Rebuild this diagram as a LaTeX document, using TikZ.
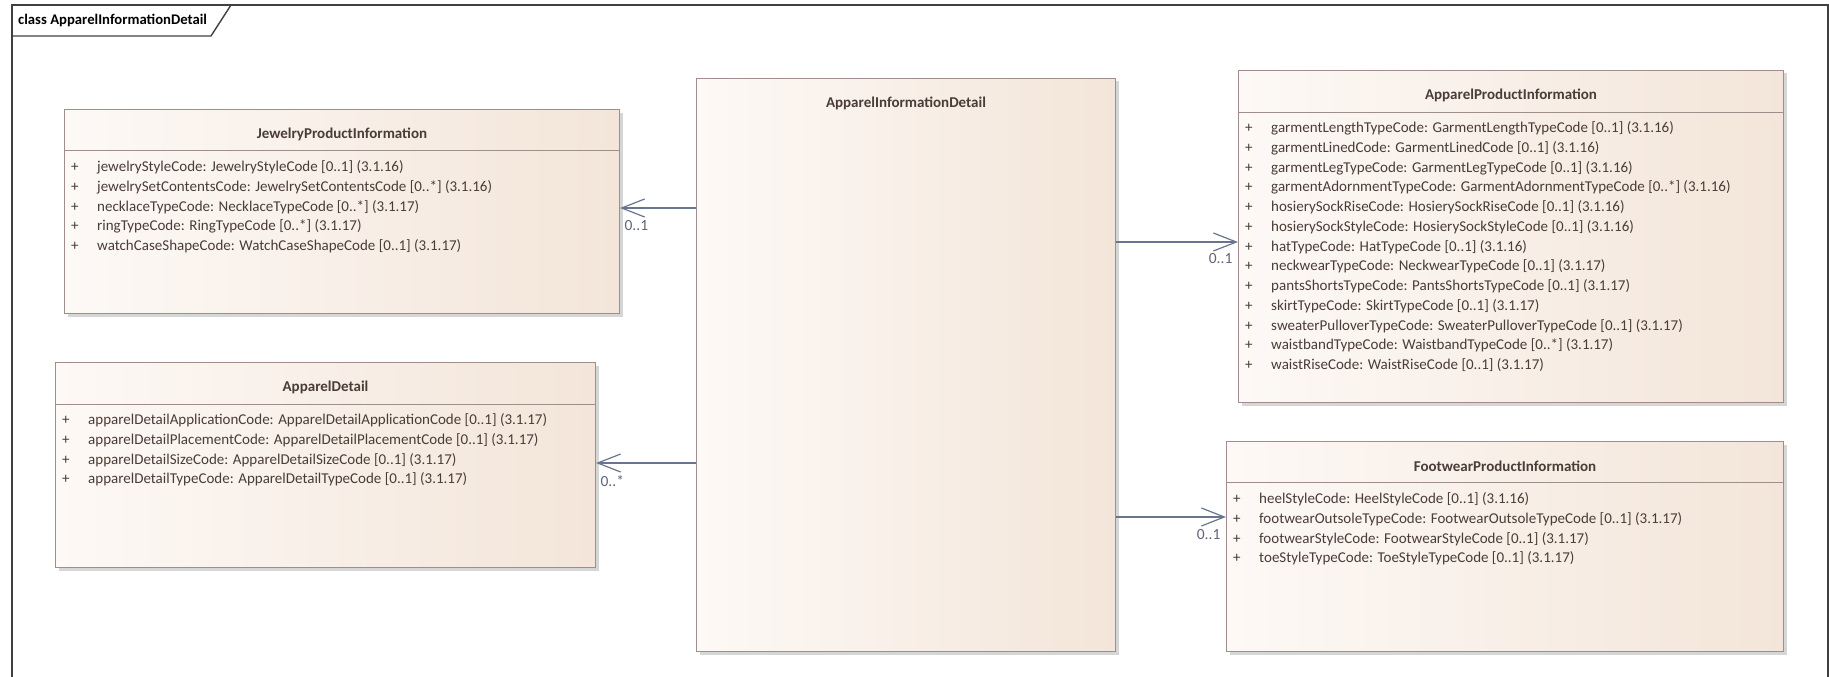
\documentclass[tikz,border=0pt]{standalone}
\usepackage{fontspec}
\setmainfont{Carlito}
\usepackage{xcolor}
\usepackage{tikz}
\usetikzlibrary{calc,positioning,shadows,arrows.meta}
\definecolor{frameline}{HTML}{404040}
\definecolor{edge}{HTML}{A08E8C}
\definecolor{fillleft}{HTML}{FDF9F6}
\definecolor{fillright}{HTML}{F3E5D9}
\definecolor{body}{HTML}{4A3C36}
\definecolor{assoc}{HTML}{69758F}
\definecolor{mult}{HTML}{5E6478}
\newcommand{\attr}[1]{\makebox[26pt][l]{+}#1}

\tikzset{
  classbox/.style={draw=edge, line width=1pt, left color=fillleft, right color=fillright,
    anchor=north west, inner sep=0pt,
    drop shadow={shadow xshift=3pt, shadow yshift=-3pt, fill=black!16, opacity=1}},
  classname/.style={font=\fontsize{15}{17}\selectfont\bfseries, text=body, inner sep=0pt},
  attrs/.style={font=\fontsize{15}{19.75}\selectfont, text=body, align=left, anchor=north west, inner sep=0pt},
  headline/.style={draw=edge, line width=1pt},
  assocline/.style={draw=assoc, line width=1.2pt, -{Straight Barb[length=23pt, width=18pt]}},
  multlabel/.style={font=\fontsize{15.5}{17}\selectfont, text=mult, inner sep=0pt}
}

\begin{document}
\begin{tikzpicture}[x=1pt, y=-1pt]
  \useasboundingbox (0,0) rectangle (1829,677);

  % diagram frame
  \draw[frameline, line width=1.4pt] (12,690) -- (12,5) -- (1828,5) -- (1828,690);
  \draw[frameline, line width=1.4pt] (12,36) -- (211,36) -- (231,5);
  \node[font=\fontsize{14.7}{16}\selectfont\bfseries, text=black, anchor=west, inner sep=0pt] (frametitle) at (18,20) {class ApparelInformationDetail};

  % classes
  \node[classbox, minimum width=419pt, minimum height=573pt] (detail) at (696,78) {};
  \node[classname] (detailname) at ([yshift=-25pt]detail.north) {ApparelInformationDetail};

  \node[classbox, minimum width=555pt, minimum height=204pt] (jewelry) at (64,109) {};
  \node[classname] (jewelryname) at ([yshift=-25pt]jewelry.north) {JewelryProductInformation};
  \draw[headline] ([yshift=-41pt]jewelry.north west) -- ([yshift=-41pt]jewelry.north east);
  \node[attrs] (jewelryattrs) at ([xshift=7pt, yshift=-51.5pt]jewelry.north west) {%
    \attr{jewelryStyleCode: JewelryStyleCode [0..1] (3.1.16)}\\
    \attr{jewelrySetContentsCode: JewelrySetContentsCode [0..*] (3.1.16)}\\
    \attr{necklaceTypeCode: NecklaceTypeCode [0..*] (3.1.17)}\\
    \attr{ringTypeCode: RingTypeCode [0..*] (3.1.17)}\\
    \attr{watchCaseShapeCode: WatchCaseShapeCode [0..1] (3.1.17)}};

  \node[classbox, minimum width=540pt, minimum height=205pt] (appdetail) at (55,362) {};
  \node[classname] (appdetailname) at ([yshift=-25pt]appdetail.north) {ApparelDetail};
  \draw[headline] ([yshift=-42pt]appdetail.north west) -- ([yshift=-42pt]appdetail.north east);
  \node[attrs] (appdetailattrs) at ([xshift=7pt, yshift=-51.5pt]appdetail.north west) {%
    \attr{apparelDetailApplicationCode: ApparelDetailApplicationCode [0..1] (3.1.17)}\\
    \attr{apparelDetailPlacementCode: ApparelDetailPlacementCode [0..1] (3.1.17)}\\
    \attr{apparelDetailSizeCode: ApparelDetailSizeCode [0..1] (3.1.17)}\\
    \attr{apparelDetailTypeCode: ApparelDetailTypeCode [0..1] (3.1.17)}};

  \node[classbox, minimum width=545pt, minimum height=332pt] (product) at (1238,70) {};
  \node[classname] (productname) at ([yshift=-25pt]product.north) {ApparelProductInformation};
  \draw[headline] ([yshift=-42pt]product.north west) -- ([yshift=-42pt]product.north east);
  \node[attrs] (productattrs) at ([xshift=7pt, yshift=-51.5pt]product.north west) {%
    \attr{garmentLengthTypeCode: GarmentLengthTypeCode [0..1] (3.1.16)}\\
    \attr{garmentLinedCode: GarmentLinedCode [0..1] (3.1.16)}\\
    \attr{garmentLegTypeCode: GarmentLegTypeCode [0..1] (3.1.16)}\\
    \attr{garmentAdornmentTypeCode: GarmentAdornmentTypeCode [0..*] (3.1.16)}\\
    \attr{hosierySockRiseCode: HosierySockRiseCode [0..1] (3.1.16)}\\
    \attr{hosierySockStyleCode: HosierySockStyleCode [0..1] (3.1.16)}\\
    \attr{hatTypeCode: HatTypeCode [0..1] (3.1.16)}\\
    \attr{neckwearTypeCode: NeckwearTypeCode [0..1] (3.1.17)}\\
    \attr{pantsShortsTypeCode: PantsShortsTypeCode [0..1] (3.1.17)}\\
    \attr{skirtTypeCode: SkirtTypeCode [0..1] (3.1.17)}\\
    \attr{sweaterPulloverTypeCode: SweaterPulloverTypeCode [0..1] (3.1.17)}\\
    \attr{waistbandTypeCode: WaistbandTypeCode [0..*] (3.1.17)}\\
    \attr{waistRiseCode: WaistRiseCode [0..1] (3.1.17)}};

  \node[classbox, minimum width=557pt, minimum height=210pt] (footwear) at (1226,441) {};
  \node[classname] (footwearname) at ([yshift=-25pt]footwear.north) {FootwearProductInformation};
  \draw[headline] ([yshift=-41pt]footwear.north west) -- ([yshift=-41pt]footwear.north east);
  \node[attrs] (footwearattrs) at ([xshift=7pt, yshift=-51.5pt]footwear.north west) {%
    \attr{heelStyleCode: HeelStyleCode [0..1] (3.1.16)}\\
    \attr{footwearOutsoleTypeCode: FootwearOutsoleTypeCode [0..1] (3.1.17)}\\
    \attr{footwearStyleCode: FootwearStyleCode [0..1] (3.1.17)}\\
    \attr{toeStyleTypeCode: ToeStyleTypeCode [0..1] (3.1.17)}};

  % associations
  \draw[assocline] (detail.west |- 0,208) -- (jewelry.east |- 0,208)
    node[multlabel, anchor=west, xshift=4pt, yshift=-18pt] {0..1};
  \draw[assocline] (detail.west |- 0,463) -- (appdetail.east |- 0,463)
    node[multlabel, anchor=west, xshift=4pt, yshift=-18pt] {0..*};
  \draw[assocline] (detail.east |- 0,242) -- (product.west |- 0,242)
    node[multlabel, anchor=east, xshift=-5pt, yshift=-17pt] {0..1};
  \draw[assocline] (detail.east |- 0,517) -- (footwear.west |- 0,517)
    node[multlabel, anchor=east, xshift=-5pt, yshift=-18pt] {0..1};
\end{tikzpicture}
\end{document}
